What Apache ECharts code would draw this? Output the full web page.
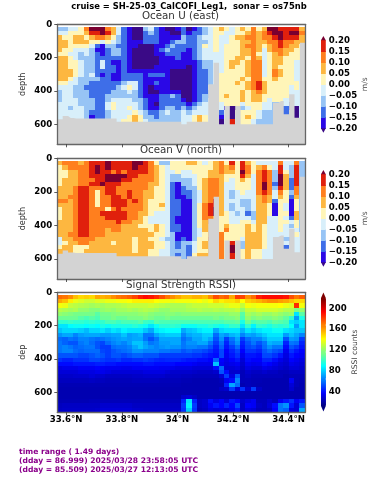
<!DOCTYPE html>
<html>
<head>
<meta charset="utf-8">
<style>html,body{margin:0;padding:0;background:#fff}#c{width:379px;height:480px}</style>
<script src="https://cdn.jsdelivr.net/npm/echarts@6/dist/echarts.min.js"></script>
</head>
<body>
<div id="c"></div>
<script>
// Velocity bands in cm/s per cell (row: 25 m bin starting at 20 m; 46 latitude columns)
const uRows = [
[-7,-7,-2,-2,2,12,22,22,22,12,7,-2,-12,-17,-22,-22,-7,-2,-12,-17,-22,-22,-17,-12,-22,-17,-12,-7,-2,2,7,2,-2,2,7,2,12,2,7,22,22,17,17,17,17,7],
[-2,-2,2,2,2,7,17,17,22,17,7,-2,-12,-17,-22,-22,-12,-7,-12,-17,-17,-22,-22,-12,-17,-12,-12,-7,-2,2,2,-2,-2,2,2,7,12,7,12,17,22,22,17,22,22,12],
[7,2,2,7,7,2,7,12,12,7,2,-7,-12,-17,-22,-22,-12,-12,-12,-17,-17,-17,-17,-7,-12,-12,-7,-2,-2,2,-2,-2,2,7,7,12,12,7,12,12,17,22,17,17,17,7],
[7,7,2,7,7,7,2,2,-2,2,-2,-7,-12,-17,-17,-17,-12,-12,-12,-17,-17,-12,-7,-7,-12,-12,-7,-7,-2,2,-2,-2,2,2,7,7,12,7,7,12,12,17,12,12,7,7],
[7,7,2,2,2,2,-2,-12,-17,-7,-7,-12,-12,-17,-17,-22,-22,-22,-17,-17,-12,-7,-12,-12,-12,-12,-7,2,-2,2,-2,2,2,2,7,12,12,7,2,7,12,17,12,7,7,2],
[7,2,2,-2,-2,-2,-7,-17,-17,-12,-7,-7,-12,-17,-22,-22,-22,-22,-17,-12,-7,-12,-12,-12,-17,-12,-7,-2,-2,2,-2,2,2,2,7,7,12,7,-2,7,12,12,7,7,2,2],
[2,2,-2,-2,-7,-2,-7,-12,-17,-12,-7,-7,-12,-17,-22,-22,-22,-22,-17,-17,-12,-12,-12,-17,-17,-12,-7,-2,-2,-2,-2,2,2,2,7,7,12,2,-2,2,7,12,7,2,2,2],
[7,7,2,-2,-7,-7,-7,-12,-12,-12,-12,-12,-12,-17,-22,-22,-22,-22,-22,-17,-17,-17,-12,-17,-17,-12,-7,-2,-2,-2,-2,2,2,7,7,2,12,7,-2,2,7,7,2,2,2,2],
[7,7,2,2,-2,-7,-7,-12,-2,-12,-17,-17,-12,-17,-22,-22,-22,-22,-22,-17,-17,-17,-17,-17,-17,-17,-12,-7,-7,-2,-2,2,7,7,2,7,12,12,-2,2,7,7,2,2,-2,-2],
[7,7,2,2,-2,-7,-7,-12,-2,-12,-12,-17,-12,-17,-22,-22,-22,-22,-17,-17,-17,-17,-17,-17,-22,-17,-12,-7,-7,-2,-2,2,7,2,2,7,12,12,-2,2,7,2,2,2,-2,-2],
[7,7,7,2,-2,-7,-7,-12,-12,-12,-12,-17,-12,-17,-17,-17,-17,-17,-17,-17,-17,-22,-22,-22,-22,-17,-12,-12,-7,-2,-2,2,2,2,2,7,12,12,-2,2,12,7,2,2,-2,-2],
[7,7,7,2,-2,-7,-2,-12,-17,-12,-17,-17,-12,-12,-12,-12,-17,-12,-12,-12,-17,-22,-22,-22,-22,-17,-12,-12,-7,-2,2,2,2,2,2,7,12,12,-2,2,12,7,2,2,-2,-2],
[7,7,2,-2,-7,-7,-7,-7,-12,-12,-17,-17,-12,-12,-12,-12,-17,-17,-17,-17,-17,-22,-22,-22,-22,-17,-12,-12,-7,-2,2,2,2,2,7,2,12,12,2,2,7,2,2,2,-2,-2],
[2,2,-2,-2,-7,-7,-12,-12,-12,-12,-12,-12,-7,-2,-2,-12,-17,-17,-12,-17,-17,-22,-22,-22,-22,-17,-12,-12,-7,-2,2,2,2,7,2,7,12,17,7,2,2,2,2,2,2,-2],
[-2,-2,-2,-7,-7,-12,-12,-12,-12,-12,-12,-7,-2,2,-2,-12,-17,-22,-17,-17,-17,-22,-22,-22,-22,-17,-12,-12,-2,-2,2,2,2,2,2,7,12,17,7,2,2,2,2,-2,2,-2],
[-7,-2,-2,-7,-7,-7,-12,-12,-12,-12,-7,-7,-7,-2,-7,-12,-17,-22,-22,-17,-17,-17,-17,-22,-22,-17,-12,-12,-7,-2,2,2,2,2,7,2,7,12,7,2,2,2,2,-2,-2,-2],
[-7,-2,-2,-7,-7,-7,-12,-12,-12,-7,-7,-7,-7,-7,-7,-12,-17,-17,-17,-12,-12,-7,-12,-22,-22,-17,-12,-7,-7,-2,2,7,2,2,7,2,7,7,2,2,2,2,2,-2,-2,-2],
[-7,-2,-2,-2,-7,-7,-7,-12,-12,-7,-2,-2,-2,-2,-7,-7,-12,-17,-17,-12,-12,-12,-12,-17,-22,-17,-12,-7,-2,-2,2,2,2,2,7,2,7,7,2,-2,2,2,-2,-2,-2,-2],
[-2,-2,-2,-2,-7,-7,-7,-12,-12,-2,2,-2,-2,-2,-2,-7,-12,-17,-22,-12,-12,-12,-12,-12,-17,-12,-7,-2,-2,-2,-2,2,2,2,-2,2,2,2,-2,-2,-7,-7,-2,-12,-2,-2],
[-2,-2,-7,-2,-2,-7,-7,-12,-12,-2,2,-2,-2,2,-2,-7,-12,-17,-17,-12,-7,-7,-12,-7,-12,-7,-2,-2,-2,2,-2,-17,-22,-22,-7,-2,2,2,-2,-2,-7,-7,-12,-17,-22,-2],
[-2,-2,-2,-2,-2,-7,-12,-12,-12,-7,-2,-2,-2,-2,2,-2,-7,-12,-12,-7,-2,-7,-7,-2,-7,-2,-2,-2,-2,2,-12,-2,-22,2,2,2,2,-2,-7,-7,-7,-7,-12,-2,-22,-2],
[-2,-2,-2,-2,-2,-7,-17,-12,-12,-7,-2,-2,-2,2,7,2,-7,-7,-12,-7,-7,-7,-7,-2,-2,2,7,2,-2,-2,-17,-2,-22,-2,2,7,2,-2,-7,-7,-7,-7,-17,-7,-22,-2],
[-2,-2,-2,-2,-2,-12,-17,-12,-12,-7,-2,-2,2,2,7,2,-2,-7,-7,-7,-7,-7,-7,-2,-2,2,7,2,-2,-2,-22,-2,17,-2,2,2,-2,-7,-7,-7,-7,-7,-17,-7,-22,-2],
[-2,-2,-2,-2,-2,-12,-17,-12,-12,-7,-2,-2,2,2,7,2,-2,-7,-7,-7,-7,-7,-7,-2,-2,2,7,2,-2,-2,-22,-2,17,-2,2,2,-2,-7,-7,-7,-7,-7,-17,-7,-22,-2]
];
const vRows = [
[7,12,12,12,7,12,17,17,17,22,17,17,17,17,22,22,17,12,2,-7,-7,2,2,2,7,7,2,-2,2,7,12,2,17,2,17,7,2,-2,-2,-2,-2,12,-2,-2,12,-7],
[2,7,12,12,12,12,17,22,17,22,17,17,17,17,22,17,17,12,7,2,-2,2,2,2,2,2,2,2,2,7,12,7,12,2,17,12,2,7,12,2,-2,17,-2,-7,17,-7],
[2,2,7,7,12,12,17,22,17,17,12,17,12,17,17,17,17,12,7,2,-2,-2,2,-2,-2,2,2,2,7,7,12,7,7,2,22,12,2,12,17,12,-7,17,2,-7,17,-7],
[2,2,7,7,12,12,17,17,17,22,22,22,22,17,17,12,12,12,7,2,-2,-7,-7,-2,-2,-2,2,2,7,7,7,2,2,2,17,7,-2,12,17,12,-7,22,7,-7,17,-7],
[2,7,7,7,12,12,12,17,17,22,22,22,17,17,12,12,12,12,7,2,-2,-7,-7,-7,-7,-2,2,7,12,12,7,2,-2,2,7,2,-2,12,17,12,-7,22,7,-12,17,-7],
[2,7,7,7,12,12,17,17,22,17,17,17,12,12,12,12,12,7,7,2,-2,-12,-17,-7,-7,-2,2,7,12,12,7,-2,-2,2,2,2,-2,12,22,12,-12,22,7,-12,17,-7],
[7,7,7,12,17,17,12,12,12,17,17,12,12,12,12,12,12,7,2,2,-2,-12,-17,-12,-7,-7,2,7,12,12,7,-2,-2,2,2,2,-2,12,22,12,-7,17,7,-12,12,-7],
[7,7,7,12,17,17,12,2,12,17,17,12,12,17,12,12,7,7,2,2,-2,-12,-17,-12,-12,-7,-2,7,12,12,7,-2,-7,-2,2,-2,-2,12,17,12,-2,12,2,-7,12,-7],
[7,7,12,12,17,17,12,2,12,12,17,17,12,17,12,12,7,7,2,2,-2,-12,-17,-17,-12,-7,-2,7,12,12,7,-2,-7,-2,-2,-2,-2,7,12,7,-2,7,2,-12,7,-7],
[12,12,7,12,17,17,12,2,12,12,17,17,17,12,17,12,7,2,2,2,-2,-12,-12,-17,-17,-7,-2,7,12,17,7,-2,-2,-2,-7,-7,-2,7,12,7,-12,2,2,-17,2,-7],
[7,7,7,12,17,17,12,2,12,12,17,17,17,12,12,12,7,2,2,7,-2,-12,-12,-17,-17,-7,2,12,17,17,7,-2,-7,-2,-7,-7,-2,7,7,2,-17,2,-2,-17,2,-7],
[2,7,7,12,17,17,12,12,12,2,12,17,12,12,12,12,7,2,2,2,-2,-12,-12,-17,-17,-7,2,12,17,22,7,-2,-7,-2,-2,-7,-2,7,7,2,-17,2,-2,-17,2,-7],
[2,7,7,12,17,17,12,12,17,17,17,17,17,12,12,7,7,2,-2,-2,-2,-12,-12,-17,-17,-7,2,12,17,22,7,2,-2,-7,-2,-12,-7,7,7,2,-17,2,2,-17,7,-7],
[2,7,7,12,17,17,12,12,12,17,17,17,17,12,12,7,2,-2,-2,-2,-2,-12,-17,-17,-17,-7,2,12,12,7,2,2,-2,-2,-2,-2,-7,7,7,-2,-2,2,-2,-12,7,-7],
[7,7,7,12,17,17,12,12,12,12,12,17,12,12,7,7,2,-2,-2,-2,-2,-12,-17,-17,-17,-7,2,7,12,7,2,2,-2,-2,2,2,-2,7,7,-2,-2,2,2,-2,2,-7],
[7,7,7,12,17,17,12,12,12,12,12,12,7,7,7,2,2,2,7,2,-2,-12,-12,-17,-17,-7,2,7,7,7,2,7,2,2,2,7,2,7,2,-2,-2,2,-2,-7,2,-7],
[7,7,7,12,17,17,12,12,12,7,12,12,7,7,7,7,7,2,7,2,-2,-12,-12,-17,-17,-7,-2,7,7,7,2,12,2,2,2,7,2,7,2,-2,-2,2,-2,-2,-2,-7],
[7,7,12,12,17,17,12,12,12,7,7,7,7,7,7,7,7,7,2,2,-2,-7,-17,-17,-17,-7,-2,2,7,7,12,2,2,2,2,7,7,7,2,-2,-2,-2,-2,-2,2,-2],
[-2,7,7,12,12,12,12,7,7,7,7,7,7,7,2,7,7,2,2,-2,-7,-7,-17,-12,-17,-7,2,2,12,7,12,2,2,2,-2,7,7,7,2,-2,-2,-2,-7,-12,-2,-2],
[-2,2,7,7,12,12,7,7,7,7,2,7,7,7,2,7,7,7,2,2,-2,-7,-12,-7,-7,-2,2,7,7,7,12,2,17,2,-7,7,7,7,2,-2,-2,-2,-2,-7,-2,-2],
[2,7,7,2,2,2,7,7,7,7,7,7,7,7,2,7,7,7,2,2,-2,-7,-12,-7,-12,-2,2,7,7,7,12,2,22,2,-7,7,7,7,2,-2,-2,-2,-12,-2,-2,-2],
[7,7,7,2,2,7,7,7,7,7,7,7,7,7,2,7,7,2,2,-2,-2,-7,-7,-7,-12,-2,2,2,7,7,12,2,22,2,2,7,2,2,-2,-2,-2,-2,-12,-7,-2,-2],
[7,7,7,7,7,7,7,7,7,7,7,7,7,7,7,7,7,2,2,-2,-2,-7,-12,-7,-12,2,7,7,7,7,12,2,17,2,2,7,2,2,-2,-2,-2,-2,-7,-7,-2,-2],
[7,7,7,7,7,7,7,7,7,7,7,7,7,7,7,7,7,2,2,-2,-2,-7,-12,-7,-12,2,7,7,7,7,12,2,17,2,2,7,2,2,-2,-2,-2,-2,-7,-7,-2,-2]
];
// Depth of the grey no-data/bottom surface for each column
const bottomDepth = [570,550,562,565,565,565,565,565,565,565,565,584,584,584,584,584,584,584,584,584,584,584,584,
600,584,584,584,584,360,230,600,490,600,490,600,600,600,600,600,600,470,460,540,420,560,110];
// RSSI counts per cell (25 m bins from 20 m to 720 m)
const rssiRows = [
[172,170,165,155,150,152,150,160,158,160,165,170,172,175,180,188,192,190,185,178,170,165,160,155,155,158,158,155,165,178,172,175,160,182,180,165,172,188,192,192,192,192,190,178,170,175],
[160,155,145,138,135,132,132,135,135,138,138,140,140,142,145,145,145,145,142,140,140,138,140,140,140,140,142,138,142,150,145,148,148,152,142,152,155,158,162,165,165,162,160,155,150,150],
[140,138,130,128,126,125,123,125,123,125,125,126,128,130,130,130,130,132,130,128,126,125,125,125,128,130,130,130,132,132,132,135,138,138,130,140,138,140,140,140,140,142,138,135,185,140],
[127,125,123,125,120,120,117,117,120,122,120,123,123,125,123,125,127,125,123,120,120,123,123,123,125,125,127,125,125,127,125,127,127,130,120,130,130,133,133,133,133,130,127,127,115,120],
[120,118,116,114,114,114,114,108,114,114,116,118,118,118,118,120,121,118,116,116,118,118,116,118,118,118,118,118,118,118,118,118,121,121,108,124,121,124,121,121,124,121,118,121,85,108],
[112,112,112,112,108,105,108,105,112,112,115,112,112,115,115,115,118,115,112,112,115,112,112,112,112,112,112,112,112,115,112,115,115,118,105,120,115,118,115,115,118,115,110,100,70,95],
[100,100,102,100,100,98,100,98,100,105,105,102,105,105,105,108,102,100,108,105,105,105,105,105,105,105,105,105,105,105,105,108,108,110,95,112,105,108,108,105,110,108,105,85,80,85],
[85,85,90,92,92,90,92,90,95,92,95,95,95,95,98,95,92,85,92,98,98,100,98,92,92,92,95,95,98,95,92,95,100,100,85,100,88,100,98,95,100,98,100,90,70,85],
[78,82,82,82,80,76,82,82,85,80,85,82,88,85,85,85,78,72,85,88,90,90,90,72,78,80,85,88,88,72,82,85,85,85,75,85,80,85,88,88,92,92,85,82,78,78],
[68,72,72,65,70,72,72,72,70,70,72,72,78,70,72,75,62,62,72,78,80,80,80,65,72,75,75,80,80,60,72,68,75,78,65,72,70,75,80,85,85,85,70,78,72,65],
[60,58,62,60,65,65,62,60,62,65,68,70,72,70,72,72,62,55,62,72,72,72,72,60,65,72,72,78,72,55,68,50,62,72,50,60,65,65,72,80,80,80,55,70,68,50],
[62,58,55,55,62,65,60,55,52,60,65,68,65,70,78,78,70,62,65,70,70,72,72,62,68,68,72,72,62,50,62,45,58,68,45,55,62,55,62,75,72,72,45,62,60,45],
[62,65,62,58,60,62,62,55,50,50,60,62,62,65,72,78,72,68,65,68,70,68,68,62,65,65,62,62,55,45,58,42,50,60,42,52,55,50,60,68,62,62,40,55,50,42],
[62,65,65,60,58,60,60,60,52,50,55,58,60,62,68,68,65,65,65,62,62,60,60,55,58,55,55,52,48,42,52,38,45,52,38,48,48,45,55,60,55,52,35,48,42,38],
[55,55,55,55,52,52,55,58,55,50,55,55,52,55,58,58,55,55,55,50,50,50,50,50,50,48,48,45,42,40,52,36,42,48,34,42,42,40,52,52,48,42,32,42,38,36],
[48,45,45,48,48,48,52,52,50,48,48,50,46,46,48,48,50,48,46,45,46,46,46,44,42,42,40,40,38,58,38,34,38,42,30,40,38,38,45,45,40,34,30,38,35,32],
[40,40,40,42,42,42,42,44,44,42,42,40,40,40,40,40,42,42,40,40,40,40,38,38,38,36,34,34,34,78,36,32,34,36,28,36,34,35,40,38,34,30,28,34,32,30],
[32,34,34,34,36,36,36,38,36,35,35,35,34,34,36,36,36,36,36,35,35,34,32,32,32,30,30,30,30,40,60,30,30,32,26,32,30,30,34,32,30,28,26,30,30,28],
[30,30,30,30,32,32,32,34,34,32,30,30,30,30,30,30,32,32,32,32,30,28,28,28,28,27,26,26,26,28,55,40,28,28,24,28,26,26,28,26,26,24,24,26,26,26],
[27,27,27,28,28,28,30,28,28,26,26,26,26,26,27,27,28,28,28,28,26,26,26,25,25,24,24,24,24,24,30,50,32,55,24,26,24,24,24,24,24,24,22,24,24,24],
[25,25,25,25,25,25,26,25,25,24,24,24,24,24,25,25,25,25,25,24,24,24,24,23,23,22,22,22,22,22,24,36,40,65,24,24,23,23,22,22,22,22,22,36,24,23],
[23,23,23,23,23,23,23,23,23,23,23,23,23,23,23,23,23,23,23,23,23,23,23,22,22,22,22,22,22,22,22,45,72,60,22,24,23,22,22,22,22,22,22,30,24,22],
[22,22,22,22,22,22,22,22,22,22,22,22,22,22,22,22,22,22,22,22,22,22,22,22,22,22,22,22,22,22,26,28,50,30,48,28,50,26,22,22,22,22,22,28,22,22],
[22,22,22,22,22,22,22,22,22,22,22,22,22,22,22,22,22,22,22,22,22,22,22,22,22,22,22,22,22,22,22,22,22,22,22,22,22,22,22,22,22,22,22,22,22,22],
[22,22,22,22,22,22,22,22,22,22,22,22,22,22,22,22,22,22,22,22,22,22,22,28,30,26,22,22,22,22,22,22,22,22,22,22,22,22,22,22,22,22,22,22,22,22],
[23,23,23,23,23,23,24,24,24,24,24,24,24,24,24,24,24,24,24,24,24,24,24,45,85,45,26,28,40,32,38,30,42,38,28,32,36,24,24,28,24,36,42,48,36,42],
[25,26,26,26,26,26,26,26,28,28,28,28,28,28,26,26,26,26,26,26,26,26,26,50,88,50,26,28,36,42,38,45,38,52,26,38,36,26,24,30,40,62,68,42,30,55],
[26,27,27,27,27,27,27,28,30,30,30,30,30,30,28,28,27,27,27,27,27,27,27,48,80,48,24,26,32,30,32,30,35,42,26,32,30,24,24,26,38,62,58,32,30,72]
];
const latTicks = [33.6,33.8,34,34.2,34.4];
const depthTicks = [0,200,400,600];
const velocityTicks = [-0.2,-0.15,-0.1,-0.05,0,0.05,0.1,0.15,0.2];
const rssiTicks = [40,80,120,160,200];
const bandColors = ['#3a0a86','#2a08e6','#3e6ee8','#97c4f5','#d8effa','#fff5b8','#fdb740','#ff7f1e','#e0200c','#7a0030'];

const latMin = 33.568, latMax = 34.46, depthMax = 720, firstDepth = 20, binDepth = 25;
const colWidth = (latMax - latMin) / 46;
const rssiMin = 12, rssiMax = 220;
const FONT = '"DejaVu Sans"';

function bandColor(v){
  const i = Math.floor((v + 0.2) / 0.05) + 1;
  return bandColors[Math.max(0, Math.min(bandColors.length - 1, i))];
}
function jet(v){
  const t = Math.max(0, Math.min(1, (v - rssiMin) / (rssiMax - rssiMin)));
  const ch = k => Math.round(255 * Math.max(0, Math.min(1, 1.5 - Math.abs(4 * t - k))));
  return `rgb(${ch(3)},${ch(2)},${ch(1)})`;
}
function cells(rows, scale){
  const out = [];
  rows.forEach((row, r) => row.forEach((v, c) => {
    out.push([latMin + c * colWidth, firstDepth + r * binDepth, v * scale]);
  }));
  return out;
}
function cellRender(colorOf){
  return function(params, api){
    const p0 = api.coord([api.value(0), api.value(1)]);
    const p1 = api.coord([api.value(0) + colWidth, api.value(1) + binDepth]);
    const x = Math.floor(p0[0]), y = Math.floor(p0[1]);
    return {type:'rect', shape:{x, y, width:Math.ceil(p1[0]) - x, height:Math.ceil(p1[1]) - y},
            style:{fill:colorOf(api.value(2))}};
  };
}
const boldTick = {color:'#000', fontFamily:FONT, fontWeight:'bold', fontSize:8.4};
const panels = [
  {top:24.3, h:120, data:cells(uRows,0.01), color:bandColor, name:'depth', labels:false, gray:true},
  {top:158.3, h:120.7, data:cells(vRows,0.01), color:bandColor, name:'depth', labels:false, gray:true},
  {top:292.3, h:120, data:cells(rssiRows,1), color:jet, name:'dep', labels:true, gray:false}
];
const grid = [], xAxis = [], yAxis = [], series = [];
const frame = {show:true, lineStyle:{color:'#666', width:1.3}};
panels.forEach((p, i) => {
  grid.push({left:57.3, width:248, top:p.top, height:p.h});
  xAxis.push({gridIndex:i, type:'value', min:latMin, max:latMax, z:5, axisLine:{...frame, onZero:false},
    splitLine:{show:false}, position:'bottom',
    axisTick:{show:true, length:3, customValues:latTicks, lineStyle:{color:'#333', width:0.8}},
    axisLabel:{show:p.labels, customValues:latTicks, margin:3, ...boldTick, fontSize:8.6, formatter:v => v + '°N'}});
  xAxis.push({gridIndex:i, type:'value', min:latMin, max:latMax, position:'top', z:5, axisLine:{...frame, onZero:false},
    splitLine:{show:false}, axisTick:{show:false}, axisLabel:{show:false}});
  yAxis.push({gridIndex:i, type:'value', inverse:true, min:0, max:depthMax, z:5, position:'left',
    axisLine:{...frame, onZero:false}, splitLine:{show:false},
    axisTick:{show:true, length:3, customValues:depthTicks, lineStyle:{color:'#333', width:0.8}},
    axisLabel:{customValues:depthTicks, margin:5, ...boldTick, fontSize:8.6},
    name:p.name, nameLocation:'middle', nameGap:30, nameMoveOverlap:false, nameTextStyle:{fontFamily:FONT, fontSize:8, color:'#333'}});
  yAxis.push({gridIndex:i, type:'value', inverse:true, min:0, max:depthMax, z:5, position:'right',
    axisLine:{...frame, onZero:false}, splitLine:{show:false}, axisTick:{show:false}, axisLabel:{show:false}});
  series.push({type:'custom', xAxisIndex:i*2, yAxisIndex:i*2, data:p.data, renderItem:cellRender(p.color),
    encode:{x:0,y:1}, silent:true, animation:false, z:2, progressive:0});
  if (p.gray){
    const line = bottomDepth.map((d, c) => [latMin + (c + 0.5) * colWidth, d]);
    line.unshift([latMin, bottomDepth[0]]);
    line.push([latMax, bottomDepth[bottomDepth.length - 1]]);
    series.push({type:'line', xAxisIndex:i*2, yAxisIndex:i*2, data:line, step:'middle', symbol:'none',
      lineStyle:{width:0}, areaStyle:{color:'#d3d3d3', opacity:1, origin:'end'}, silent:true, animation:false, z:3});
  }
});
// Colour bars: their own small grids with real value axes
function addColorbar(top, h, min, max, ticks, fmt, pieces, colors, tipFrac, name, nameGap){
  const gi = grid.length, ax = xAxis.length;
  grid.push({left:321, width:4.8, top, height:h});
  xAxis.push({gridIndex:gi, type:'value', min:0, max:1, show:false});
  yAxis.push({gridIndex:gi, type:'value', min, max, position:'right', axisLine:{show:false}, splitLine:{show:false},
    axisTick:{show:true, length:2.5, customValues:ticks, lineStyle:{color:'#333', width:0.8}},
    axisLabel:{customValues:ticks, margin:3, ...boldTick, fontSize:8.6, formatter:fmt},
    name, nameLocation:'middle', nameGap, nameRotate:-270, nameTextStyle:{fontFamily:FONT, fontSize:7.6, color:'#444'}});
  series.push({type:'custom', xAxisIndex:ax, yAxisIndex:yAxis.length-1, data:pieces.map(q => [q[0], q[1]]), encode:{y:[0,1]}, silent:true, animation:false, clip:false,
    renderItem(params, api){
      const a = api.coord([0, api.value(0)]), b = api.coord([1, api.value(1)]);
      return {type:'rect', shape:{x:a[0], y:Math.floor(b[1]), width:b[0]-a[0], height:Math.ceil(a[1])-Math.floor(b[1])}, style:{fill:pieces[params.dataIndex][2]}};
    }});
  const span = max - min, tip = span * tipFrac;
  series.push({type:'custom', xAxisIndex:ax, yAxisIndex:yAxis.length-1,
    data:[[max, max + tip],[min, min - tip]], encode:{y:[0,1]}, silent:true, animation:false, clip:false,
    renderItem(params, api){
      const a = api.coord([0, api.value(0)]), b = api.coord([1, api.value(0)]), t = api.coord([0.5, api.value(1)]);
      return {type:'polygon', shape:{points:[a, b, t]}, style:{fill:params.dataIndex === 0 ? colors[1] : colors[0]}};
    }});
}
const velPieces = [];
for (let i = 0; i < 8; i++) velPieces.push([-0.2 + i*0.05, -0.2 + (i+1)*0.05, bandColors[i+1]]);
addColorbar(40.3, 88, -0.2, 0.2, velocityTicks, v => v.toFixed(2).replace('-', '\u2212'), velPieces, [bandColors[0], bandColors[9]], 0.05, 'm/s', 35);
addColorbar(174.3, 88, -0.2, 0.2, velocityTicks, v => v.toFixed(2).replace('-', '\u2212'), velPieces, [bandColors[0], bandColors[9]], 0.05, 'm/s', 35);
const rssiPieces = [];
for (let v = rssiMin; v < rssiMax; v += 2) rssiPieces.push([v, v + 2, jet(v + 1)]);
addColorbar(298, 108, rssiMin, rssiMax, rssiTicks, v => String(v), rssiPieces, ['#00007f','#7f0000'], 0.05, 'RSSI counts', 25);

const titleText = (text, x, y, size, extra) => ({text, left:x, top:y, textAlign:'center', textVerticalAlign:'middle', padding:0,
  textStyle:{fontFamily:FONT, fontSize:size, fontWeight:'normal', color:'#333', lineHeight:size*1.15, ...extra}});
const footer = (text, y) => ({text, left:19, top:y, padding:0, textVerticalAlign:'middle',
  textStyle:{fontFamily:FONT, fontSize:7.6, fontWeight:'bold', color:'#8b008b'}});

const chart = echarts.init(document.getElementById('c'), null, {renderer:'canvas'});
chart.setOption({
  animation:false, backgroundColor:'#fff',
  title:[
    titleText('cruise = SH-25-03_CalCOFI_Leg1,  sonar = os75nb', 189, 7, 8.4, {fontWeight:'bold', color:'#000'}),
    titleText('Ocean U (east)', 180.5, 16.5, 10.3),
    titleText('Ocean V (north)', 181, 150.5, 10.3),
    titleText('Signal Strength RSSI)', 181, 285, 10.3),
    footer('time range ( 1.49 days)', 452),
    footer('(dday = 86.999) 2025/03/28 23:58:05 UTC', 461.5),
    footer('(dday = 85.509) 2025/03/27 12:13:05 UTC', 470.5)
  ],
  grid, xAxis, yAxis, series
});
</script>
</body>
</html>
